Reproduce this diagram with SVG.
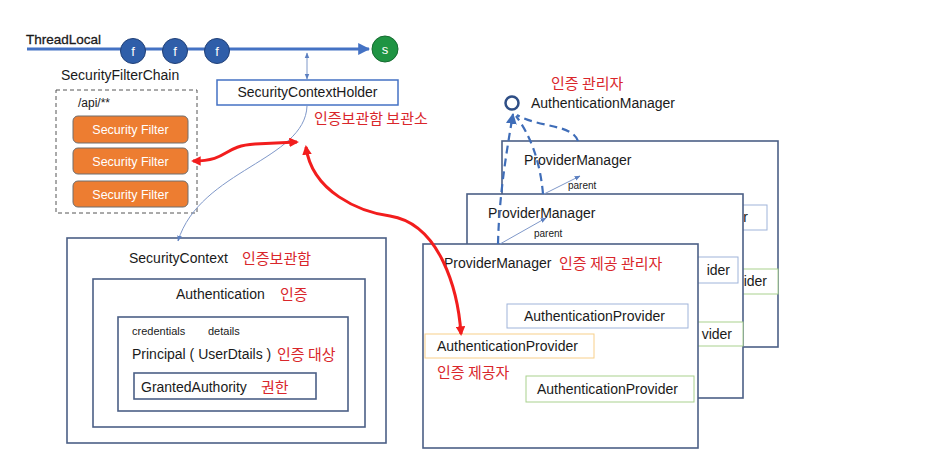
<svg xmlns="http://www.w3.org/2000/svg" width="951" height="464" viewBox="0 0 951 464">
<defs>
<style>
text{font-family:"Liberation Sans","Noto Sans CJK KR",sans-serif;fill:#1a1a1a;}
.t14{font-size:14px;}
.t11{font-size:11px;}
.t10{font-size:10px;}
.kr{font-family:"Noto Sans CJK KR","Liberation Sans",sans-serif;font-size:15px;fill:#d9262b;}
.box{fill:#fff;stroke:#4b5f86;stroke-width:1.6;}
.pm{fill:#fff;stroke:#4b5f86;stroke-width:1.6;}
.filt{fill:#ed7d31;stroke:#6e6e6e;stroke-width:1;}
.ft{font-size:12.5px;fill:#fff;text-anchor:middle;}
.circ{fill:#2f5ea9;stroke:#1f3f77;stroke-width:1;}
.ct{font-size:13px;fill:#fff;text-anchor:middle;}
.red{fill:none;stroke:#f21d1d;stroke-width:3;}
.thin{fill:none;stroke:#7f98c9;stroke-width:1;}
.dash{fill:none;stroke:#3f6db8;stroke-width:2.2;stroke-dasharray:8 5;}
.ap{fill:#fff;stroke:#9fb4da;stroke-width:1;}
.ag{fill:#fff;stroke:#a9d18e;stroke-width:1;}
</style>
<marker id="ra" viewBox="0 0 10 10" refX="8" refY="5" markerWidth="3.2" markerHeight="3.2" orient="auto-start-reverse" markerUnits="strokeWidth"><path d="M0,0 L10,5 L0,10 z" fill="#f21d1d"/></marker>
<marker id="ta" viewBox="0 0 10 10" refX="9" refY="5" markerWidth="6" markerHeight="6" orient="auto-start-reverse" markerUnits="strokeWidth"><path d="M0,1 L10,5 L0,9 z" fill="#5b7fc0"/></marker>
<marker id="ba" viewBox="0 0 10 10" refX="9" refY="5" markerWidth="4" markerHeight="4" orient="auto" markerUnits="strokeWidth"><path d="M0,0 L10,5 L0,10 z" fill="#4472c4"/></marker>
<marker id="da" viewBox="0 0 10 10" refX="9" refY="5" markerWidth="5" markerHeight="5" orient="auto" markerUnits="strokeWidth"><path d="M0,0 L10,5 L0,10 z" fill="#3f6db8"/></marker>
</defs>
<rect width="951" height="464" fill="#fff"/>

<g id="threadlocal">
<text x="26" y="44" style="font-size:13.5px;font-weight:500;stroke:#1a1a1a;stroke-width:0.3">ThreadLocal</text>
<line x1="27" y1="49" x2="369" y2="49" stroke="#4472c4" stroke-width="3" marker-end="url(#ba)"/>
<circle class="circ" cx="133" cy="51" r="12.5"/><text class="ct" x="133" y="56">f</text>
<circle class="circ" cx="175" cy="51" r="12.5"/><text class="ct" x="175" y="56">f</text>
<circle class="circ" cx="217" cy="51" r="12.5"/><text class="ct" x="217" y="56">f</text>
<circle cx="385" cy="49" r="13" fill="#1f9443" stroke="#156b30" stroke-width="1"/><text class="ct" x="385" y="54">s</text>
</g>

<g id="filterchain">
<text class="t14" x="61" y="80">SecurityFilterChain</text>
<rect x="56" y="90" width="141" height="123" fill="none" stroke="#555" stroke-width="1" stroke-dasharray="4 3"/>
<text x="78" y="107" style="font-size:12px">/api/**</text>
<rect class="filt" x="73" y="116" width="115" height="27" rx="5"/><text class="ft" x="130.5" y="134">Security Filter</text>
<rect class="filt" x="73" y="148" width="115" height="26" rx="5"/><text class="ft" x="130.5" y="165.5">Security Filter</text>
<rect class="filt" x="73" y="181" width="115" height="26" rx="5"/><text class="ft" x="130.5" y="198.5">Security Filter</text>
</g>

<g id="holder">
<rect x="217" y="80" width="181" height="25" fill="#fff" stroke="#4472c4" stroke-width="1.5"/>
<text class="t14" x="307.5" y="97" text-anchor="middle">SecurityContextHolder</text>
<text class="kr" x="314" y="124">인증보관함 보관소</text>
</g>

<g id="securitycontext">
<rect class="box" x="67" y="238" width="319" height="205"/>
<text class="t14" x="129" y="263">SecurityContext</text>
<text class="kr" x="242" y="264">인증보관함</text>
<rect class="box" x="93" y="279" width="272" height="148"/>
<text class="t14" x="176" y="299">Authentication</text>
<text class="kr" x="280" y="300">인증</text>
<rect class="box" x="118" y="317" width="230" height="94"/>
<text class="t11" x="132" y="335">credentials</text>
<text class="t11" x="208" y="335">details</text>
<text class="t14" x="132" y="359">Principal ( UserDtails )</text>
<text class="kr" x="277" y="360">인증 대상</text>
<rect class="box" x="134" y="373" width="182" height="26"/>
<text class="t14" x="141" y="392">GrantedAuthority</text>
<text class="kr" x="261" y="393">권한</text>
</g>

<g id="authmanager">
<text class="kr" x="551" y="89">인증 관리자</text>
<circle cx="512" cy="103" r="6.5" fill="#fff" stroke="#2f4f86" stroke-width="2.5"/>
<text class="t14" x="531" y="108">AuthenticationManager</text>
</g>

<g id="pm3">
<rect class="pm" x="502" y="141" width="276" height="206"/>
<text class="t14" x="524" y="165">ProviderManager</text>
<rect class="ap" x="590" y="205" width="177" height="25"/>
<text class="t14" x="748" y="222" text-anchor="end">r</text>
<rect class="ag" x="610" y="269" width="168" height="25"/>
<text class="t14" x="767" y="286" text-anchor="end">ider</text>
</g>

<g id="pm2">
<rect class="pm" x="467" y="194" width="276" height="204"/>
<text class="t14" x="488" y="218">ProviderManager</text>
<rect class="ap" x="565" y="257" width="173" height="26"/>
<text class="t14" x="730" y="275" text-anchor="end">ider</text>
<rect class="ag" x="575" y="322" width="168" height="24"/>
<text class="t14" x="732" y="339" text-anchor="end">vider</text>
</g>

<g id="pm1">
<rect class="pm" x="423" y="244" width="275" height="204"/>
<text class="t14" x="444" y="268">ProviderManager</text>
<text class="kr" x="559" y="269">인증 제공 관리자</text>
<rect class="ap" x="507" y="304" width="181" height="24"/>
<text class="t14" x="524" y="321">AuthenticationProvider</text>
<rect x="425" y="334" width="169" height="24" fill="#fff" stroke="#f8cf8a" stroke-width="1"/>
<text class="t14" x="437" y="351">AuthenticationProvider</text>
<text class="kr" x="437" y="378">인증 제공자</text>
<rect class="ag" x="526" y="376" width="168" height="26"/>
<text class="t14" x="537" y="394">AuthenticationProvider</text>
</g>

<g id="connectors">
<line class="thin" x1="307" y1="53" x2="307" y2="79" marker-start="url(#ta)" marker-end="url(#ta)"/>
<path class="thin" d="M307 106 C305 160 200 170 178 241" marker-end="url(#ta)"/>
<path class="red" d="M193 161 C230 161 222 146 255 144 L297 142" marker-start="url(#ra)" marker-end="url(#ra)"/>
<path class="red" d="M306 147 C312 192 360 212 390 216 C440 224 458 290 461 334" marker-start="url(#ra)" marker-end="url(#ra)"/>
<path class="dash" d="M498 244 C499 200 505 160 513 114" marker-end="url(#da)"/>
<path class="dash" d="M543 194 C540 160 530 135 516 116"/>
<path class="dash" d="M578 141 C572 124 540 128 517 115"/>
<line class="thin" x1="500" y1="244" x2="546" y2="218" marker-end="url(#ta)"/>
<text class="t10" x="534" y="237">parent</text>
<line class="thin" x1="544" y1="194" x2="580" y2="176" marker-end="url(#ta)"/>
<text class="t10" x="568" y="189">parent</text>
</g>
</svg>
